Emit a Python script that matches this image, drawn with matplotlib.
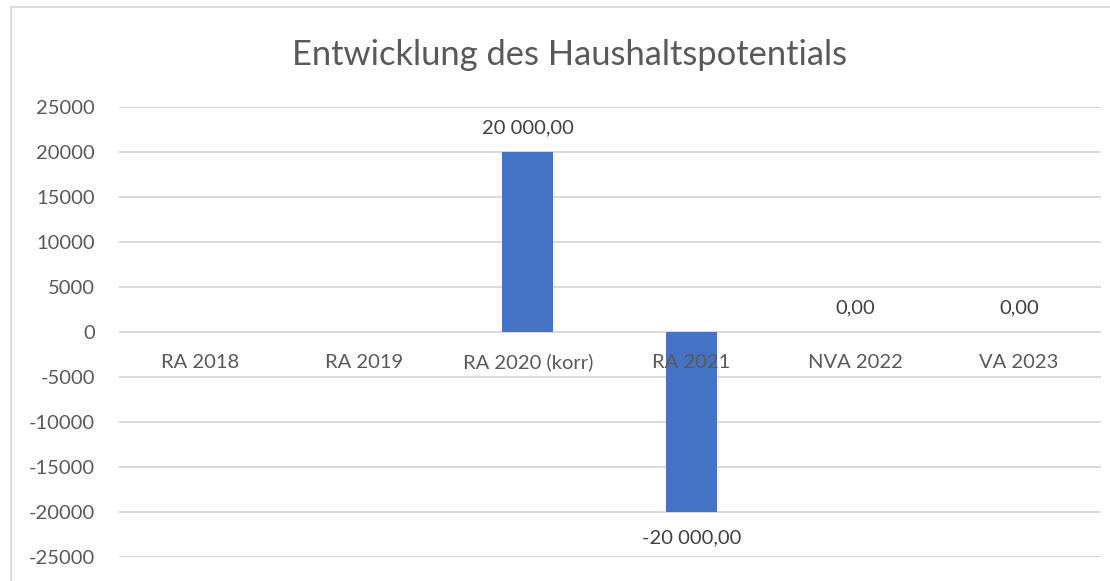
import matplotlib.pyplot as plt
from matplotlib.lines import Line2D
import matplotlib.transforms as mtransforms
import numpy as np

# Daten
kategorien = ['RA 2018', 'RA 2019', 'RA 2020 (korr)', 'RA 2021', 'NVA 2022', 'VA 2023']
werte = [np.nan, np.nan, 20000, -20000, 0, 0]
y_ticks = [25000, 20000, 15000, 10000, 5000, 0, -5000, -10000, -15000, -20000, -25000]
titel = 'Entwicklung des Haushaltspotentials'

plt.rcParams['font.family'] = ['Lato', 'DejaVu Sans']

W, H = 1110, 581
fig = plt.figure(figsize=(W / 100, H / 100), dpi=100)
ax = fig.add_axes([118.5 / W, 1 - 556.7 / H, (1100.7 - 118.5) / W, 450 / H])

x = np.arange(len(kategorien))
ax.bar(x, werte, width=0.313, color='#4472C4', zorder=2)

ax.set_xlim(-0.5, len(kategorien) - 0.5)
ax.set_ylim(-25000, 25000)
ax.set_yticks(y_ticks)
ax.set_yticklabels([str(v) for v in y_ticks])
ax.set_xticks([])
for s in ax.spines.values():
    s.set_visible(False)
ax.yaxis.grid(True, color='#d9d9d9', lw=1.4, zorder=0)
ax.set_axisbelow(True)
ax.tick_params(axis='y', length=0, pad=17, labelsize=14.5, labelcolor='#595959')

# Kategorienamen an der Nulllinie
off = mtransforms.offset_copy(ax.transData, fig=fig, x=0, y=-22, units='dots')
for xi, k in zip(x, kategorien):
    ax.text(xi, 0, k, transform=off, ha='center', va='top', fontsize=14.5,
            color='#595959', zorder=5)

# Datenbeschriftungen
for xi, v in zip(x, werte):
    if np.isnan(v):
        continue
    txt = f'{v:,.2f}'.replace(',', ' ').replace('.', ',')
    if v >= 0:
        t = mtransforms.offset_copy(ax.transData, fig=fig, x=0, y=18, units='dots')
        ax.text(xi, v, txt, transform=t, ha='center', va='baseline', fontsize=14.5,
                color='#404040', zorder=5)
    else:
        t = mtransforms.offset_copy(ax.transData, fig=fig, x=0, y=-18, units='dots')
        ax.text(xi, v, txt, transform=t, ha='center', va='top', fontsize=14.5,
                color='#404040', zorder=5)

fig.text(570 / W, 1 - 65 / H, titel, ha='center', va='baseline', fontsize=24.8,
         color='#595959')

# Rahmen des Diagrammbereichs
fig.add_artist(Line2D([11 / W, 11 / W], [0, 1 - 7 / H], transform=fig.transFigure,
                      color='#d9d9d9', lw=1.3))
fig.add_artist(Line2D([11 / W, 1], [1 - 7 / H, 1 - 7 / H], transform=fig.transFigure,
                      color='#d9d9d9', lw=1.3))

fig.savefig('out.png', dpi=100)
